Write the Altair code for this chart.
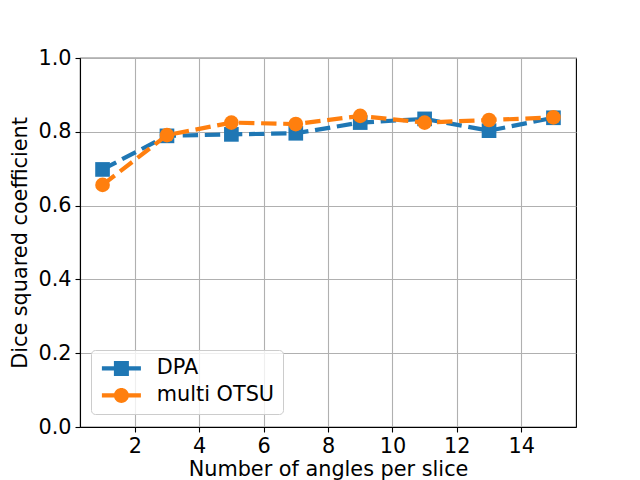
import altair as alt
import pandas as pd

angles = [1, 3, 5, 7, 9, 11, 13, 15]
dpa = [0.698, 0.789, 0.793, 0.796, 0.825, 0.835, 0.803, 0.838]
otsu = [0.656, 0.791, 0.825, 0.821, 0.843, 0.825, 0.832, 0.839]
series_names = ["DPA", "multi OTSU"]
colors = ["#1f77b4", "#ff7f0e"]
x_ticks = [2, 4, 6, 8, 10, 12, 14]
y_ticks = [0.0, 0.2, 0.4, 0.6, 0.8, 1.0]

df = pd.DataFrame(
    {"angles": angles * 2,
     "value": dpa + otsu,
     "series": [series_names[0]] * len(angles) + [series_names[1]] * len(angles)}
)

FONT = "DejaVu Sans"
FS = 20.8

sq_path = "M-2.6,-0.28H-1V-1H1V-0.28H2.6V0.28H1V1H-1V0.28H-2.6Z"
ci_path = ("M-2.6,-0.28H-0.96A1,1 0 0 1 0.96,-0.28H2.6V0.28H0.96"
           "A1,1 0 0 1 -0.96,0.28H-2.6Z")

xenc = alt.X("angles:Q",
             scale=alt.Scale(domain=[0.3, 15.7], nice=False, zero=False),
             axis=alt.Axis(values=x_ticks, title="Number of angles per slice",
                           format="d"))
yenc = alt.Y("value:Q",
             scale=alt.Scale(domain=[0, 1], nice=False),
             axis=alt.Axis(values=y_ticks, title="Dice squared coefficient",
                           format=".1f"))
cscale = alt.Scale(domain=series_names, range=colors)
cenc = alt.Color("series:N", scale=cscale, legend=None)

base = alt.Chart(df)


def line_layer(name):
    return base.transform_filter(alt.datum.series == name).mark_line(
        strokeWidth=4.2, strokeDash=[15.4, 6.7]
    ).encode(x=xenc, y=yenc, color=cenc)


def point_layer(name, shape):
    return base.transform_filter(alt.datum.series == name).mark_point(
        shape=shape, filled=True, size=215, opacity=1, strokeWidth=0
    ).encode(x=xenc, y=yenc, color=cenc)


legend_layer = base.mark_point(
    filled=True, strokeWidth=0, opacity=1
).encode(
    x=xenc, y=yenc,
    size=alt.value(0),
    color=alt.Color("series:N", scale=cscale,
                    legend=alt.Legend(title=None, orient="none", legendX=11, legendY=292,
                                      symbolOffset=12, labelOffset=25,
                                      labelFontSize=FS, labelFont=FONT,
                                      labelColor="black",
                                      padding=8, rowPadding=5,
                                      strokeColor="#cccccc", fillColor="rgba(255,255,255,0.8)",
                                      cornerRadius=4, symbolSize=225,
                                      symbolOpacity=1, symbolStrokeWidth=0)),
    shape=alt.Shape("series:N", scale=alt.Scale(domain=series_names, range=[sq_path, ci_path])),
)

chart = alt.layer(
    legend_layer,
    line_layer("DPA"), point_layer("DPA", "square"),
    line_layer("multi OTSU"), point_layer("multi OTSU", "circle"),
).properties(
    width=496, height=369,
    autosize=alt.AutoSizeParams(type="none"),
    padding={"left": 72, "top": 50, "right": 50, "bottom": 53},
).configure_view(
    stroke="black", strokeWidth=1.1
).configure_axis(
    labelFont=FONT, titleFont=FONT, labelFontSize=FS, titleFontSize=FS,
    labelColor="black", titleColor="black", titleFontWeight="normal",
    grid=True, gridColor="#b0b0b0", gridWidth=1.1,
    domainColor="black", domainWidth=1.1,
    tickColor="black", tickWidth=1.1, tickSize=5, labelPadding=4,
).configure_axisX(
    titlePadding=4,
).configure_axisY(
    titlePadding=7,
)

chart.save("out.html", embed_options={"renderer": "svg", "actions": False})
